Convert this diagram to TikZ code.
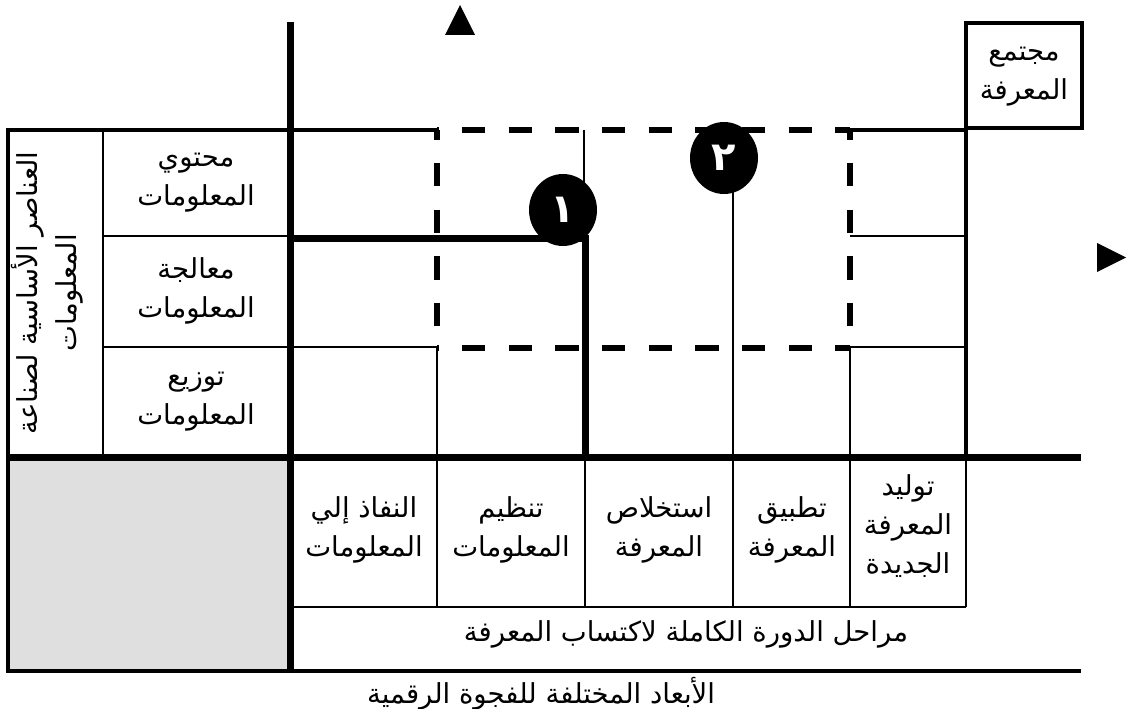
\documentclass[tikz,border=0pt]{standalone}
\usepackage{fontspec}
\usetikzlibrary{shapes.geometric}
\newfontfamily\arfont[Script=Arabic]{DejaVu Sans}
\TeXXeTstate=1
\newcommand{\artxt}[1]{\beginR #1\endR}
\definecolor{cellgray}{HTML}{DFDFDF}
\begin{document}
\begin{tikzpicture}[x=1pt,y=-1pt,
  thk/.style={line width=7pt},
  med/.style={line width=4.5pt},
  thn/.style={line width=2pt},
  dsh/.style={line width=6pt, dash pattern=on 23.33pt off 23.33pt},
  lbl/.style={font=\arfont\fontsize{27.5}{39}\selectfont, align=center, inner sep=0pt},
  num/.style={ellipse, fill=black, minimum width=68pt, minimum height=72pt, inner sep=0pt,
              text=white, font=\arfont\bfseries\fontsize{40}{40}\selectfont}]
\useasboundingbox (0,0) rectangle (1128,709);
% gray block
\fill[cellgray] (8,457) rectangle (290,671);
% thin lines
\draw[thn] (103,130) -- (103,457);
\draw[thn] (103,236) -- (290,236);
\draw[thn] (103,347) -- (290,347);
\draw[thn] (290,347) -- (437,347);
\draw[thn] (850,236) -- (966,236);
\draw[thn] (850,347) -- (966,347);
\draw[thn] (437,347) -- (437,607);
\draw[thn] (584,130) -- (584,238);
\draw[thn] (585,457) -- (585,607);
\draw[thn] (733,130) -- (733,607);
\draw[thn] (850,347) -- (850,607);
\draw[thn] (966,457) -- (966,607);
\draw[thn] (290,607) -- (966,607);
% medium lines
\draw[med] (8,130) -- (437,130);
\draw[med] (850,130) -- (966,130);
\draw[med] (8,128) -- (8,673);
\draw[med] (6,671) -- (1081,671);
\draw[med] (966,128) -- (966,457);
\draw[med] (966,23) rectangle (1082,128);
% thick lines
\draw[thk] (290,22) -- (290,671);
\draw[thk] (6,457) -- (1081,457);
\draw[thk] (290,238) -- (585,238) -- (585,457);
% dashed box
\draw[dsh, dash phase=21.67pt] (437,130) -- (850,130);
\draw[dsh, dash phase=21.67pt] (437,348) -- (850,348);
\draw[dsh, dash phase=13.67pt] (437,130) -- (437,348);
\draw[dsh, dash phase=13.67pt] (850,130) -- (850,348);
% arrow heads
\fill (445,35) -- (475,35) -- (460,5) -- cycle;
\fill (1097,243) -- (1097,272) -- (1126,257.5) -- cycle;
% circles
\node[num] (c1) at (563,210) {\artxt{١}};
\node[num] (c2) at (724,158) {\artxt{٢}};
% labels
\node[lbl] (soc) at (1024,77) {\artxt{مجتمع}\\\artxt{المعرفة}};
\node[lbl, rotate=90] (title) at (47,293) {\artxt{العناصر الأساسية لصناعة}\\\artxt{المعلومات}};
\node[lbl] (r1) at (196,183) {\artxt{محتوي}\\\artxt{المعلومات}};
\node[lbl] (r2) at (196,291) {\artxt{معالجة}\\\artxt{المعلومات}};
\node[lbl] (r3) at (196,402) {\artxt{توزيع}\\\artxt{المعلومات}};
\node[lbl] (b1) at (364,530) {\artxt{النفاذ إلي}\\\artxt{المعلومات}};
\node[lbl] (b2) at (511,530) {\artxt{تنظيم}\\\artxt{المعلومات}};
\node[lbl] (b3) at (659,530) {\artxt{استخلاص}\\\artxt{المعرفة}};
\node[lbl] (b4) at (792,530) {\artxt{تطبيق}\\\artxt{المعرفة}};
\node[lbl] (b5) at (908,526) {\artxt{توليد}\\\artxt{المعرفة}\\\artxt{الجديدة}};
\node[lbl] (cyc) at (686,634) {\artxt{مراحل الدورة الكاملة لاكتساب المعرفة}};
\node[lbl] (dim) at (541,694) {\artxt{الأبعاد المختلفة للفجوة الرقمية}};
\end{tikzpicture}
\end{document}
